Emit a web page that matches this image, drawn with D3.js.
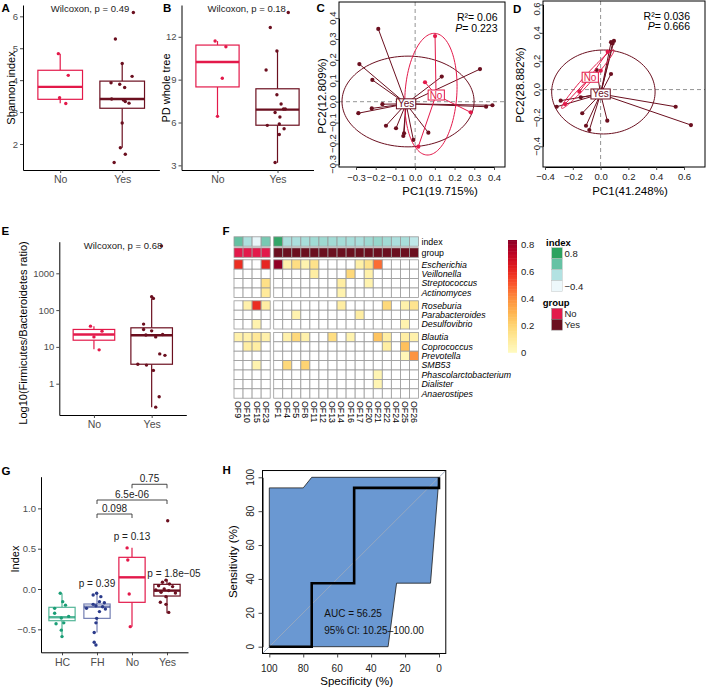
<!DOCTYPE html>
<html>
<head>
<meta charset="utf-8">
<script src="https://cdn.jsdelivr.net/npm/d3@7/dist/d3.min.js"></script>
<style>
html,body{margin:0;padding:0;background:#fff;}
svg{display:block;font-family:"Liberation Sans",Arial,Helvetica,sans-serif;}
</style>
</head>
<body>
<svg id="fig" width="708" height="690" xmlns="http://www.w3.org/2000/svg"></svg>
<script>
// ================= DATA =================
const groups = ["No", "Yes"];

// A: Shannon index  (box stats: [low whisker, q1, median, q3, high whisker])
const shannonStatsNo = [3.28, 3.40, 3.79, 4.31, 4.83];
const shannonStatsYes = [1.88, 3.12, 3.41, 3.97, 4.52];
const shannonNo = [4.83, 4.15, 3.45, 3.27];
const shannonNoJitter = [-0.03, 0.13, -0.01, 0.09];
const shannonYes = [6.12, 5.29, 4.52, 4.12, 3.92, 3.87, 3.77, 3.41, 3.38, 3.33, 3.28, 2.66, 1.88, 1.68, 1.42];
const shannonYesJitter = [0.18, -0.11, 0, 0.16, -0.18, -0.04, 0.04, -0.17, 0.02, 0.05, 0.11, 0, -0.03, 0.05, -0.13];
const shannonTicks = [2, 3, 4, 5, 6];

// B: PD whole tree
const pdStatsNo = [6.43, 8.49, 10.24, 11.42, 11.7];
const pdStatsYes = [3.18, 5.81, 6.9, 8.36, 11.07];
const pdNo = [11.7, 11.3, 9.1, 6.43];
const pdNoJitter = [-0.04, 0.14, 0.08, 0];
const pdYes = [13.7, 12.65, 11.0, 9.68, 7.94, 7.3, 6.95, 6.95, 6.7, 6.39, 5.8, 5.9, 5.56, 5.16, 3.2];
const pdYesJitter = [0.18, -0.12, -0.01, -0.19, -0.01, 0.06, 0.10, 0.13, -0.04, 0.04, -0.17, 0.03, 0.11, 0.03, -0.04];
const pdTicks = [3, 6, 9, 12];

// C: PCoA 1
const pcCYesX = [-0.187, -0.283, -0.217, -0.288, -0.22, -0.166, -0.148, -0.097, -0.06, -0.056, -0.009, 0.067, 0.135, 0.329, 0.36, 0.392];
const pcCYesY = [0.348, 0.18, 0.104, -0.055, -0.032, -0.012, -0.115, -0.127, -0.164, -0.151, -0.183, -0.148, 0.12, 0.156, -0.024, -0.017];
const pcCNoX = [0.101, 0.05, 0.282, 0.016];
const pcCNoY = [0.314, 0.093, -0.051, -0.215];
const pcCCentroidYes = [-0.046, -0.01];
const pcCCentroidNo = [0.106, 0.032];
const pcCEllipseYes = [-0.036, 0.001, 0.335, 0, 0, 0.217];     // cx, cy, ax, ay, bx, by
const pcCEllipseNo = [0.08, 0.036, 0.0208, 0.291, 0.131, -0.0083];
const pcCTicks = [-0.3, -0.2, -0.1, 0.0, 0.1, 0.2, 0.3, 0.4];
const pcCStats = ["R\u00B2= 0.06", "0.223"];

// D: PCoA 2
const pcDYesX = [0.075, 0.096, 0.086, 0.075, -0.028, -0.287, -0.316, -0.143, -0.132, -0.105, -0.081, 0.048, 0.54, 0.65];
const pcDYesY = [0.334, 0.343, 0.325, 0.11, 0.138, -0.078, -0.121, -0.054, -0.167, -0.255, -0.285, -0.219, -0.121, -0.25];
const pcDNoX = [0.051, 0.001, -0.153, -0.256];
const pcDNoY = [0.267, 0.133, -0.015, -0.102];
const pcDCentroidYes = [0.0, -0.031];
const pcDCentroidNo = [-0.076, 0.087];
const pcDEllipseYes = [0.02, -0.017, 0.372, 0, 0, 0.296];
const pcDEllipseNo = [-0.092, 0.074, 0.188, 0.206, 0.0214, -0.0188];
const pcDTicks = [-0.4, -0.2, 0.0, 0.2, 0.4, 0.6];
const pcDStats = ["R\u00B2= 0.036", "0.666"];

// E: Firmicutes/Bacteroidetes ratio
const fbStatsNo = [8.65, 15.2, 21.8, 29.8, 36.6];
const fbStatsYes = [0.228, 3.38, 20.8, 33, 208];
const fbNo = [36.6, 26.8, 18.7, 8.3];
const fbNoJitter = [-0.06, 0.14, 0, 0.09];
const fbYes = [5550, 230, 208, 41.6, 29.8, 27.3, 21.8, 21, 18.7, 6.45, 5.9, 3.38, 3.2, 2.3, 0.44, 0.23];
const fbYesJitter = [0.17, 0, 0.03, -0.14, -0.14, 0, 0.19, -0.10, 0.07, 0.14, 0.23, -0.24, -0.09, 0.03, 0.13, 0.07];
const fbTicks = [1, 10, 100, 1000];

// F: heatmap
const hmCols = ["OF9","OF10","OF15","OF23","OF1","OF4","OF5","OF8","OF11","OF12","OF13","OF14","OF16","OF17","OF20","OF21","OF22","OF24","OF25","OF26"];
const hmGroup = ["No","No","No","No","Yes","Yes","Yes","Yes","Yes","Yes","Yes","Yes","Yes","Yes","Yes","Yes","Yes","Yes","Yes","Yes"];
const hmIndex = [0.51, -0.062, -0.467, 0.36, 0.847, -0.05, -0.05, -0.02, 0.04, 0.06, 0.03, 0.0, -0.02, -0.04, 0.05, 0.11, 0.03, -0.05, -0.02, -0.19];
const hmGenera = ["Escherichia","Veillonella","Streptococcus","Actinomyces","Roseburia","Parabacteroides","Desulfovibrio","Blautia","Coprococcus","Prevotella","SMB53","Phascolarctobacterium","Dialister","Anaerostipes"];
const hmRowBlock = [0,0,0,0,1,1,1,2,2,2,2,2,2,2];
const heatValues = [
  [0.6,0,0,0.62, 0.82,0.08,0.18,0.07,0.16,0,0,0,0,0.09,0.16,0.48,0,0,0,0],
  [0,0,0,0, 0,0,0,0,0.1,0,0,0,0.2,0,0.08,0,0,0,0,0],
  [0,0,0,0.17, 0,0,0,0,0,0,0,0.1,0,0,0.07,0,0,0,0,0],
  [0,0,0,0.12, 0,0,0,0,0,0,0,0.07,0,0,0,0,0,0,0,0],
  [0,0.08,0.6,0.1, 0,0,0,0,0,0,0,0.1,0,0,0,0,0.2,0,0.08,0.15],
  [0,0,0,0, 0,0,0.07,0,0,0,0,0,0,0.1,0,0,0,0,0,0],
  [0,0,0.07,0, 0,0,0,0,0,0,0,0,0,0,0,0,0,0,0.07,0],
  [0.08,0.08,0.13,0.08, 0,0.08,0.2,0.08,0,0,0.18,0,0.07,0,0,0.27,0.1,0,0.1,0.08],
  [0,0.1,0.1,0, 0,0,0,0,0,0,0,0,0,0,0,0,0.1,0,0.28,0],
  [0,0,0,0, 0,0,0,0,0,0,0,0,0,0,0,0,0,0,0.05,0.4],
  [0,0,0.07,0, 0,0.2,0,0.22,0,0,0,0,0,0,0,0,0,0,0,0],
  [0,0,0,0, 0,0,0,0,0,0,0,0,0,0,0,0.06,0,0,0,0],
  [0,0,0,0, 0,0,0,0,0,0,0,0,0,0,0,0.06,0,0,0,0],
  [0,0,0,0, 0,0,0,0,0,0,0,0,0,0,0,0,0,0,0,0]
];
const heatTicks = [0, 0.2, 0.4, 0.6, 0.8];
const indexLegendColors = ["#2ca25f", "#66c2a4", "#b2e2e2", "#edf8fb"];
const indexLegendLabels = ["0.8", "\u22120.4"];

// G: index by group
const idxCats = ["HC", "FH", "No", "Yes"];
const idxStats = [
  [-0.59, -0.393, -0.35, -0.227, -0.053],
  [-0.54, -0.364, -0.22, -0.186, -0.053],
  [-0.467, -0.165, 0.145, 0.393, 0.512],
  [-0.3, -0.087, -0.02, 0.058, 0.12]
];
const idxHC = [-0.053, -0.157, -0.2, -0.24, -0.3, -0.34, -0.36, -0.43, -0.42, -0.51, -0.59];
const idxHCJitter = [-0.05, 0.02, 0.1, -0.21, -0.21, 0.19, -0.02, -0.17, 0.05, -0.02, 0];
const idxFH = [-0.053, -0.075, -0.095, -0.157, -0.17, -0.19, -0.207, -0.22, -0.24, -0.248, -0.28, -0.364, -0.42, -0.54, -0.66, -0.695];
const idxFHJitter = [-0.01, -0.11, 0.11, 0.07, 0.21, -0.11, -0.03, 0.16, -0.3, 0.24, 0.07, -0.01, -0.03, -0.08, -0.08, -0.03];
const idxNo = [0.51, 0.36, -0.062, -0.467];
const idxNoJitter = [-0.14, -0.12, -0.08, -0.05];
const idxYes = [0.847, 0.11, 0.083, 0.062, 0.04, 0.03, 0, -0.012, -0.02, -0.04, -0.05, -0.095, -0.165, -0.19, -0.29];
const idxYesJitter = [0.02, -0.03, -0.13, 0.07, -0.24, 0.16, -0.08, -0.32, 0.05, -0.17, 0.24, -0.03, -0.19, -0.03, 0.05];
const idxTicks = [-0.5, 0, 0.5, 1.0];
const idxBrackets = [
  {from: "No", to: "Yes", y: 1.299, label: "0.75"},
  {from: "FH", to: "Yes", y: 1.104, label: "6.5e-06"},
  {from: "FH", to: "No", y: 0.93, label: "0.098"}
];
const idxPLabels = [
  {cat: "FH", y: 0.021, label: "p = 0.39"},
  {cat: "No", y: 0.608, label: "p = 0.13"},
  {cat: "Yes", y: 0.153, label: "p = 1.8e\u221205"}
];

// H: ROC
const rocSpec = [100, 75, 75, 50, 50, 0, 0];
const rocSens = [0, 0, 37.5, 37.5, 93.75, 93.75, 100];
const ciSpec = [100, 80, 75, 0, 5, 25, 30, 100];
const ciSens = [93.75, 93.75, 100, 100, 37.5, 37.5, 0, 0];
const rocTicks = [0, 20, 40, 60, 80, 100];
const rocText = ["AUC = 56.25", "95% CI: 10.25\u2013100.00"];

// ================= DRAWING =================
const svg = d3.select("#fig");
svg.append("rect").attr("width", 708).attr("height", 690).attr("fill", "#fff");
const defs = svg.append("defs");
const COLORS = {No: "#E3194A", Yes: "#6B0F1F", HC: "#1A9E76", FH: "#2A3A8A"};

function letter(t, x, y) {
  svg.append("text").attr("x", x).attr("y", y).attr("font-size", 11.5)
    .attr("font-weight", "bold").attr("fill", "#000").text(t);
}
function styleAxis(sel, fs, col) {
  sel.attr("font-family", null).attr("font-size", null);
  sel.select(".domain").attr("stroke", "#000").attr("stroke-width", 1);
  sel.selectAll(".tick line").attr("stroke", "#333").attr("stroke-width", 0.9);
  sel.selectAll(".tick text").attr("font-size", fs).attr("fill", col || "#4d4d4d");
}

function boxPanel(o) {
  const g = svg.append("g");
  const x = d3.scalePoint().domain(o.cats).range(o.xr).padding(0.6);
  const y = (o.log ? d3.scaleLog() : d3.scaleLinear()).domain(o.yd).range(o.yr);
  const step = x.step(), bw = step * (o.boxFrac || 0.72);
  const ay = g.append("g").attr("transform", `translate(${o.xr[0]},0)`)
    .call(d3.axisLeft(y).tickValues(o.ticks).tickFormat(o.fmt).tickSize(3).tickSizeOuter(0).tickPadding(2));
  styleAxis(ay, 9.5);
  const ax = g.append("g").attr("transform", `translate(0,${o.yr[0]})`)
    .call(d3.axisBottom(x).tickSize(3).tickSizeOuter(0).tickPadding(3));
  styleAxis(ax, 10.5);
  o.cats.forEach((c, i) => {
    const s = o.stats[i], col = COLORS[c], cx = x(c);
    const bg = g.append("g").attr("stroke", col).attr("stroke-opacity", o.boxOpacity ? o.boxOpacity[i] : 1);
    bg.append("line").attr("x1", cx).attr("x2", cx).attr("y1", y(s[0])).attr("y2", y(s[1])).attr("stroke-width", 1.2);
    bg.append("line").attr("x1", cx).attr("x2", cx).attr("y1", y(s[3])).attr("y2", y(s[4])).attr("stroke-width", 1.2);
    bg.append("rect").attr("x", cx - bw / 2).attr("y", y(s[3])).attr("width", bw)
      .attr("height", y(s[1]) - y(s[3])).attr("fill", "#fff").attr("stroke-width", 1.2);
    bg.append("line").attr("x1", cx - bw / 2).attr("x2", cx + bw / 2).attr("y1", y(s[2])).attr("y2", y(s[2])).attr("stroke-width", 2.4);
  });
  o.cats.forEach((c, i) => {
    g.append("g").selectAll("circle").data(o.values[i]).join("circle")
      .attr("cx", (d, j) => x(c) + o.jitter[i][j] * step).attr("cy", d => y(d))
      .attr("r", 1.7).attr("fill", COLORS[c]);
  });
  if (o.title) g.append("text").attr("x", o.title[1]).attr("y", o.title[2]).attr("text-anchor", "middle")
    .attr("font-size", 9.5).attr("fill", "#222").text(o.title[0]);
  g.append("text").attr("transform", `translate(${o.ylab[1]},${o.ylab[2]}) rotate(-90)`)
    .attr("text-anchor", "middle").attr("font-size", 11).attr("fill", "#000").text(o.ylab[0]);
  return {g, x, y, step};
}

// ---- A ----
letter("A", 1.5, 12);
boxPanel({cats: groups, xr: [23, 159.4], yd: [1.185, 6.355], yr: [170, 5], ticks: shannonTicks, fmt: d3.format("d"),
  stats: [shannonStatsNo, shannonStatsYes], values: [shannonNo, shannonYes], jitter: [shannonNoJitter, shannonYesJitter],
  title: ["Wilcoxon, p = 0.49", 90, 11.5], ylab: ["Shannon index", 14.5, 88]});

// ---- B ----
letter("B", 163, 12);
boxPanel({cats: groups, xr: [181.5, 313.5], yd: [2.675, 14.225], yr: [170, 5], ticks: pdTicks, fmt: d3.format("d"),
  stats: [pdStatsNo, pdStatsYes], values: [pdNo, pdYes], jitter: [pdNoJitter, pdYesJitter],
  title: ["Wilcoxon, p = 0.18", 246.7, 11.5], ylab: ["PD whole tree", 169.5, 88]});

// ---- E ----
letter("E", 1.5, 235);
boxPanel({cats: groups, xr: [59.3, 186.3], log: true, yd: [Math.pow(10, -0.851), Math.pow(10, 3.859)], yr: [415, 241.7],
  ticks: fbTicks, fmt: d3.format("d"),
  stats: [fbStatsNo, fbStatsYes], values: [fbNo, fbYes], jitter: [fbNoJitter, fbYesJitter],
  title: ["Wilcoxon, p = 0.68", 123, 249], ylab: ["Log10(Firmicutes/Bacteroidetes ratio)", 26.5, 333]});

// ---- G ----
letter("G", 1.5, 474.5);
const G = boxPanel({cats: idxCats, xr: [41, 188], yd: [-0.785, 1.393], yr: [652.3, 476.7], ticks: idxTicks, fmt: d3.format(".1f"),
  stats: idxStats, values: [idxHC, idxFH, idxNo, idxYes], jitter: [idxHCJitter, idxFHJitter, idxNoJitter, idxYesJitter],
  boxFrac: 0.75, boxOpacity: [0.75, 0.65, 1, 1], ylab: ["Index", 19.3, 559]});
idxBrackets.forEach(b => {
  const x1 = G.x(b.from), x2 = G.x(b.to), yy = G.y(b.y);
  G.g.append("path").attr("d", `M${x1},${yy + 4}V${yy}H${x2}V${yy + 4}`).attr("fill", "none")
    .attr("stroke", "#333").attr("stroke-width", 0.9);
  G.g.append("text").attr("x", (x1 + x2) / 2).attr("y", yy - 2.5).attr("text-anchor", "middle")
    .attr("font-size", 10).attr("fill", "#222").text(b.label);
});
idxPLabels.forEach(p => {
  G.g.append("text").attr("x", G.x(p.cat) + (p.cat === "Yes" ? 7 : 0)).attr("y", G.y(p.y)).attr("text-anchor", "middle")
    .attr("font-size", 10).attr("fill", "#222").text(p.label);
});

// ---- C & D: PCoA ----
function pcoaPanel(o) {
  const x = d3.scaleLinear().domain(o.xd).range(o.xr);
  const y = d3.scaleLinear().domain(o.yd).range(o.yr);
  const [fx0, fy0, fx1, fy1] = o.frame;
  const g = svg.append("g");
  defs.append("clipPath").attr("id", o.id).append("rect").attr("x", fx0).attr("y", fy0)
    .attr("width", fx1 - fx0).attr("height", fy1 - fy0);
  const pg = g.append("g").attr("clip-path", `url(#${o.id})`);
  pg.append("line").attr("x1", fx0).attr("x2", fx1).attr("y1", y(0)).attr("y2", y(0))
    .attr("stroke", "#888").attr("stroke-width", 0.9).attr("stroke-dasharray", "4,3");
  pg.append("line").attr("x1", x(0)).attr("x2", x(0)).attr("y1", fy0).attr("y2", fy1)
    .attr("stroke", "#888").attr("stroke-width", 0.9).attr("stroke-dasharray", "4,3");
  const ell = d3.line().x(d => x(d[0])).y(d => y(d[1])).curve(d3.curveLinearClosed);
  o.groups.forEach(gr => {
    const col = COLORS[gr.name], e = gr.ellipse;
    const pts = d3.range(0, 360, 3).map(a => {
      const t = a * Math.PI / 180;
      return [e[0] + e[2] * Math.cos(t) + e[4] * Math.sin(t), e[1] + e[3] * Math.cos(t) + e[5] * Math.sin(t)];
    });
    pg.append("path").attr("d", ell(pts)).attr("fill", "none").attr("stroke", col).attr("stroke-width", 1);
    pg.append("g").selectAll("line").data(gr.xs).join("line")
      .attr("x1", d => x(d)).attr("y1", (d, i) => y(gr.ys[i]))
      .attr("x2", x(gr.c[0])).attr("y2", y(gr.c[1])).attr("stroke", col).attr("stroke-width", 1);
    pg.append("g").selectAll("circle").data(gr.xs).join("circle")
      .attr("cx", d => x(d)).attr("cy", (d, i) => y(gr.ys[i])).attr("r", 2.1).attr("fill", col);
  });
  o.groups.forEach(gr => {
    const col = COLORS[gr.name];
    const lg = g.append("g");
    const r = lg.append("rect");
    const t = lg.append("text").attr("x", x(gr.c[0])).attr("y", y(gr.c[1])).attr("dy", "0.35em")
      .attr("text-anchor", "middle").attr("font-size", 10).attr("fill", col).text(gr.name);
    const bb = t.node().getBBox();
    r.attr("x", bb.x - 1.5).attr("y", bb.y + 0.5).attr("width", bb.width + 3).attr("height", bb.height - 1)
      .attr("fill", "#fff").attr("stroke", col).attr("stroke-width", 1);
  });
  g.append("rect").attr("x", fx0).attr("y", fy0).attr("width", fx1 - fx0).attr("height", fy1 - fy0)
    .attr("fill", "none").attr("stroke", "#000").attr("stroke-width", 1);
  const ax = g.append("g").attr("transform", `translate(0,${fy1})`)
    .call(d3.axisBottom(x).tickValues(o.ticksX).tickFormat(d3.format(".1f")).tickSize(3).tickSizeOuter(0).tickPadding(2));
  styleAxis(ax, 9.5, "#222");
  ax.selectAll(".tick text").attr("y", o.xLabY - fy1).attr("dy", null);
  const ay = g.append("g").attr("transform", `translate(${fx0},0)`)
    .call(d3.axisLeft(y).tickValues(o.ticksY).tickFormat("").tickSize(3).tickSizeOuter(0));
  styleAxis(ay, 9.5, "#222");
  // rotated y tick labels; a label that would run off the page top is kept just inside it
  g.append("g").selectAll("text").data(o.ticksY).join("text")
    .attr("transform", d => `translate(${o.yLabX},${Math.max(9, y(d))}) rotate(-90)`).attr("text-anchor", "middle")
    .attr("font-size", 9.5).attr("fill", "#222").text(d3.format(".1f"));
  g.append("text").attr("x", o.xTitle[1]).attr("y", o.xTitle[2]).attr("text-anchor", "middle")
    .attr("font-size", 11.5).attr("fill", "#000").text(o.xTitle[0]);
  g.append("text").attr("transform", `translate(${o.yTitle[1]},${o.yTitle[2]}) rotate(-90)`).attr("text-anchor", "middle")
    .attr("font-size", 11.5).attr("fill", "#000").text(o.yTitle[0]);
  g.append("text").attr("x", o.statX).attr("y", o.statY[0]).attr("text-anchor", "end").attr("font-size", 10.5)
    .attr("fill", "#000").text(o.stats[0]);
  const pt = g.append("text").attr("x", o.statX).attr("y", o.statY[1]).attr("text-anchor", "end").attr("font-size", 10.5).attr("fill", "#000");
  pt.append("tspan").attr("font-style", "italic").text("P");
  pt.append("tspan").text("= " + o.stats[1]);
}

letter("C", 316.5, 12);
pcoaPanel({id: "clipC", xd: [-0.3, 0.4], xr: [356, 494], yd: [-0.3, 0.4], yr: [164.4, 18.1], frame: [339, 2, 505, 167],
  ticksX: pcCTicks, ticksY: pcCTicks, xLabY: 181, yLabX: 335.5,
  groups: [
    {name: "Yes", xs: pcCYesX, ys: pcCYesY, c: pcCCentroidYes, ellipse: pcCEllipseYes},
    {name: "No", xs: pcCNoX, ys: pcCNoY, c: pcCCentroidNo, ellipse: pcCEllipseNo}
  ],
  xTitle: ["PC1(19.715%)", 440, 194.5], yTitle: ["PC2(12.809%)", 326, 96],
  stats: pcCStats, statX: 497.5, statY: [20.5, 32]});

letter("D", 513, 13);
pcoaPanel({id: "clipD", xd: [-0.4, 0.6], xr: [545, 684], yd: [-0.4, 0.6], yr: [146.3, 4.5], frame: [543, 1, 705, 167],
  ticksX: pcDTicks, ticksY: pcDTicks, xLabY: 179.5, yLabX: 539.5,
  groups: [
    {name: "Yes", xs: pcDYesX, ys: pcDYesY, c: pcDCentroidYes, ellipse: pcDEllipseYes},
    {name: "No", xs: pcDNoX, ys: pcDNoY, c: pcDCentroidNo, ellipse: pcDEllipseNo}
  ],
  xTitle: ["PC1(41.248%)", 630, 194.5], yTitle: ["PC2(28.882%)", 524, 85],
  stats: pcDStats, statX: 690, statY: [19.5, 30]});

// ---- F: heatmap ----
letter("F", 222.5, 235);
(function () {
  const g = svg.append("g");
  const cw = 9.05, colGap = 3.5, rh = 9.4, rowGap = 3.4, fs = 8.8;
  const colBand = d3.scaleBand().domain(hmCols).range([234, 234 + cw * hmCols.length]);
  const colX = c => { const i = hmCols.indexOf(c); return colBand(c) + (i > 0 && hmGroup[i] !== hmGroup[0] ? colGap : 0); };
  const rowBand = d3.scaleBand().domain(hmGenera).range([259.8, 259.8 + rh * hmGenera.length]);
  const rowY = r => rowBand(r) + hmRowBlock[hmGenera.indexOf(r)] * rowGap;
  const heatColor = v => v <= 0 ? "#ffffff" : d3.interpolateYlOrRd(Math.min(1, v / 0.85));
  const indexColor = d3.scaleLinear().domain([-0.5, -0.1, 0.5, 0.9])
    .range(indexLegendColors.slice().reverse()).clamp(true);
  const groupColor = c => COLORS[c];
  const border = "#9a9a9a";
  g.append("g").selectAll("rect").data(hmCols).join("rect")
    .attr("x", c => colX(c)).attr("y", 236.8).attr("width", colBand.bandwidth()).attr("height", rh)
    .attr("fill", (c, i) => indexColor(hmIndex[i])).attr("stroke", border).attr("stroke-width", 0.8);
  g.append("g").selectAll("rect").data(hmCols).join("rect")
    .attr("x", c => colX(c)).attr("y", 247.9).attr("width", colBand.bandwidth()).attr("height", rh)
    .attr("fill", (c, i) => groupColor(hmGroup[i])).attr("stroke", border).attr("stroke-width", 0.8);
  hmGenera.forEach((gen, r) => {
    g.append("g").selectAll("rect").data(heatValues[r]).join("rect")
      .attr("x", (v, i) => colX(hmCols[i])).attr("y", rowY(gen)).attr("width", colBand.bandwidth()).attr("height", rh)
      .attr("fill", v => heatColor(v)).attr("stroke", border).attr("stroke-width", 0.8);
  });
  const lx = colX(hmCols[hmCols.length - 1]) + cw + 3;
  g.append("text").attr("x", lx).attr("y", 236.8 + rh / 2).attr("dy", "0.35em").attr("font-size", fs).text("index");
  g.append("text").attr("x", lx).attr("y", 247.9 + rh / 2).attr("dy", "0.35em").attr("font-size", fs).text("group");
  g.append("g").selectAll("text").data(hmGenera).join("text")
    .attr("x", lx).attr("y", d => rowY(d) + rh / 2).attr("dy", "0.35em")
    .attr("font-size", fs).attr("font-style", "italic").text(d => d);
  g.append("g").selectAll("text").data(hmCols).join("text")
    .attr("transform", c => `translate(${colX(c) + cw / 2},401) rotate(90)`).attr("dy", "0.35em")
    .attr("font-size", fs).text(d => d);
  // colour bar
  const cb = d3.scaleLinear().domain([0, 0.8]).range([352.3, 244.3]);
  const topV = cb.invert(240);
  const nS = 80;
  g.append("g").selectAll("rect").data(d3.range(nS)).join("rect")
    .attr("x", 508).attr("width", 9)
    .attr("y", i => cb(topV * (i + 1) / nS)).attr("height", i => cb(topV * i / nS) - cb(topV * (i + 1) / nS) + 0.5)
    .attr("fill", i => d3.interpolateYlOrRd(Math.min(1, (topV * (i + 0.5) / nS) / 0.85 * 0.97 + 0.03)));
  g.append("g").selectAll("text").data(heatTicks).join("text")
    .attr("x", 521).attr("y", d => cb(d)).attr("dy", "0.35em").attr("font-size", 9.5).attr("fill", "#222")
    .text(d => d === 0 ? "0" : d3.format(".1f")(d));
  g.append("text").attr("x", 546).attr("y", 246).attr("font-size", 9.5).attr("font-weight", "bold").text("index");
  g.append("g").selectAll("rect").data(indexLegendColors).join("rect")
    .attr("x", 551.7).attr("y", (d, i) => 247.7 + i * 11).attr("width", 10.6).attr("height", 11)
    .attr("fill", d => d).attr("stroke", "#bbb").attr("stroke-width", 0.4);
  g.append("text").attr("x", 564.5).attr("y", 253.2).attr("dy", "0.35em").attr("font-size", 9.5).attr("fill", "#222").text(indexLegendLabels[0]);
  g.append("text").attr("x", 564.5).attr("y", 286.2).attr("dy", "0.35em").attr("font-size", 9.5).attr("fill", "#222").text(indexLegendLabels[1]);
  g.append("text").attr("x", 542.7).attr("y", 305.5).attr("font-size", 9.5).attr("font-weight", "bold").text("group");
  g.append("g").selectAll("rect").data(groups).join("rect")
    .attr("x", 551.7).attr("y", (d, i) => 308.3 + i * 10.9).attr("width", 10.6).attr("height", 10.9)
    .attr("fill", d => COLORS[d]).attr("stroke", "#888").attr("stroke-width", 0.5);
  g.append("g").selectAll("text").data(groups).join("text")
    .attr("x", 564.5).attr("y", (d, i) => 313.7 + i * 10.9).attr("dy", "0.35em").attr("font-size", 9.5).attr("fill", "#222").text(d => d);
})();

// ---- H: ROC ----
letter("H", 222.5, 473.5);
(function () {
  const g = svg.append("g");
  const x = d3.scaleLinear().domain([100, 0]).range([269.3, 439]);
  const y = d3.scaleLinear().domain([0, 100]).range([646.7, 477.3]);
  const fx0 = x(104), fx1 = x(-4), fy0 = y(104), fy1 = y(-4);
  defs.append("clipPath").attr("id", "clipH").append("rect").attr("x", fx0).attr("y", fy0).attr("width", fx1 - fx0).attr("height", fy1 - fy0);
  const pg = g.append("g").attr("clip-path", "url(#clipH)");
  const line = d3.line().x(d => x(d[0])).y(d => y(d[1]));
  pg.append("path").attr("d", line(ciSpec.map((s, i) => [s, ciSens[i]])) + "Z")
    .attr("fill", "#6A98D2").attr("stroke", "#1a1a1a").attr("stroke-width", 0.8);
  pg.append("line").attr("x1", x(110)).attr("y1", y(-10)).attr("x2", x(-10)).attr("y2", y(110))
    .attr("stroke", "#9aa9bf").attr("stroke-width", 0.9);
  pg.append("path").attr("d", line(rocSpec.map((s, i) => [s, rocSens[i]])))
    .attr("fill", "none").attr("stroke", "#000").attr("stroke-width", 2.6).attr("stroke-linejoin", "miter");
  g.append("rect").attr("x", fx0).attr("y", fy0).attr("width", fx1 - fx0).attr("height", fy1 - fy0)
    .attr("fill", "none").attr("stroke", "#000").attr("stroke-width", 1);
  const ax = g.append("g").attr("transform", `translate(0,${fy1})`)
    .call(d3.axisBottom(x).tickValues(rocTicks).tickFormat("").tickSize(4).tickSizeOuter(0));
  styleAxis(ax, 9.5);
  const ay = g.append("g").attr("transform", `translate(${fx0},0)`)
    .call(d3.axisLeft(y).tickValues(rocTicks).tickFormat("").tickSize(4).tickSizeOuter(0));
  styleAxis(ay, 9.5);
  g.append("g").selectAll("text").data(rocTicks).join("text")
    .attr("x", d => x(d)).attr("y", 671.7).attr("text-anchor", "middle").attr("font-size", 10).attr("fill", "#222").text(d => d);
  g.append("g").selectAll("text").data(rocTicks).join("text")
    .attr("transform", d => `translate(253.5,${y(d)}) rotate(-90)`).attr("text-anchor", "middle")
    .attr("font-size", 10).attr("fill", "#222").text(d => d);
  g.append("text").attr("x", 356.7).attr("y", 684.5).attr("text-anchor", "middle").attr("font-size", 11.5).text("Specificity (%)");
  g.append("text").attr("transform", `translate(236.5,561.7) rotate(-90)`).attr("text-anchor", "middle").attr("font-size", 11.5).text("Sensitivity (%)");
  g.append("text").attr("x", 324.3).attr("y", 617).attr("font-size", 10).attr("fill", "#111").text(rocText[0]);
  g.append("text").attr("x", 324.3).attr("y", 633.5).attr("font-size", 10).attr("fill", "#111").text(rocText[1]);
})();
</script>
</body>
</html>
